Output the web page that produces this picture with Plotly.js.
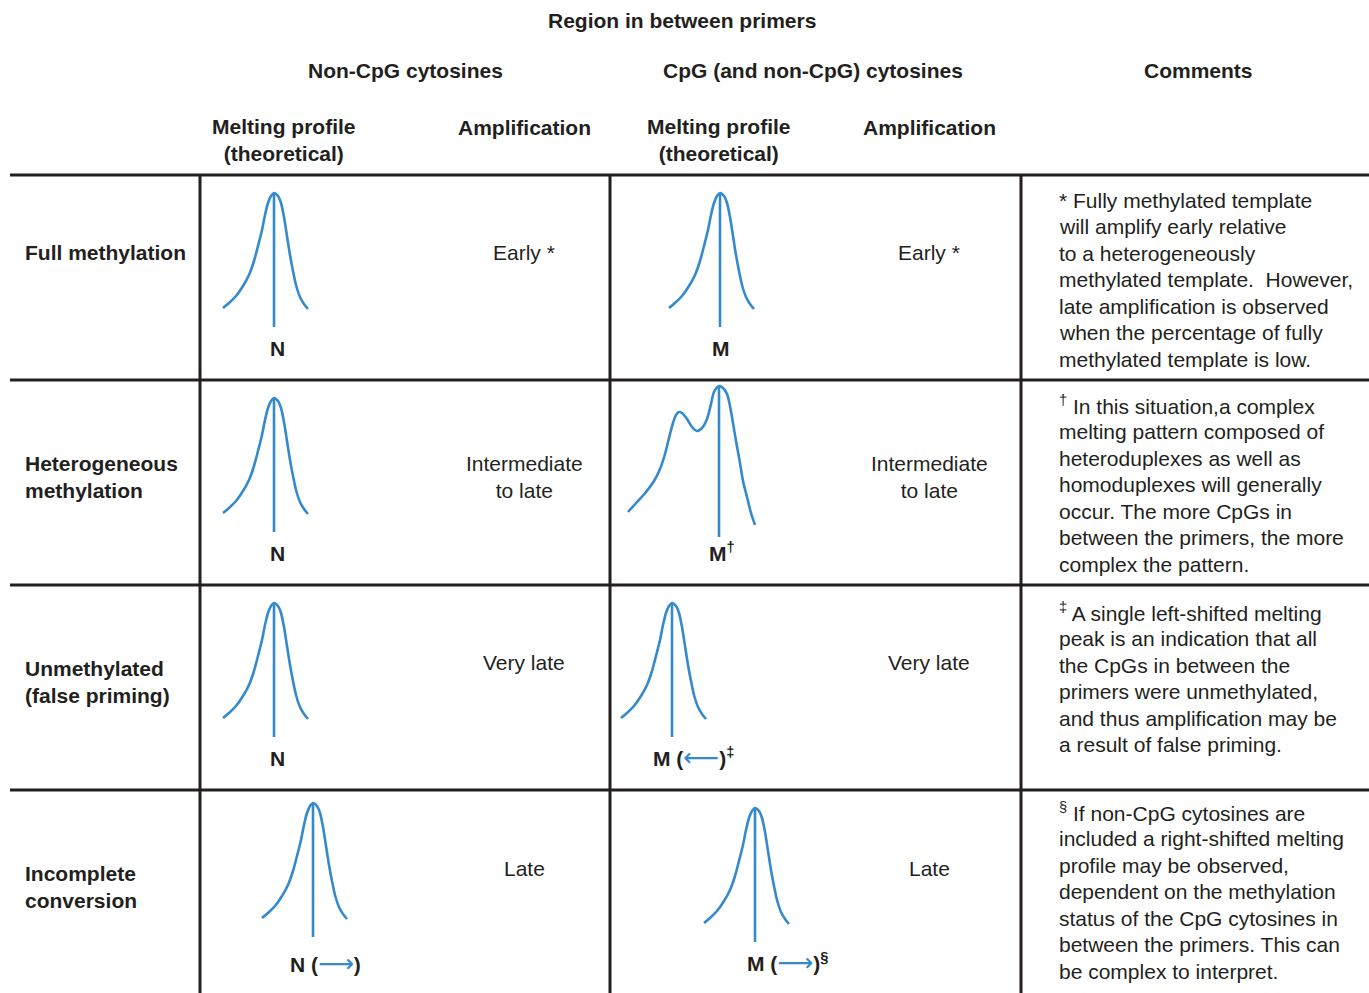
<!DOCTYPE html>
<html>
<head>
<meta charset="utf-8">
<script src="https://cdn.plot.ly/plotly-3.0.1.min.js"></script>
<style>html,body{margin:0;padding:0;background:#fff;}#chart{width:1369px;height:993px;}</style>
</head>
<body>
<div id="chart"></div>
<script>
// ---------- data ----------
const topTitle = "Region in between primers";
const groupHeaders = ["Non-CpG cytosines", "CpG (and non-CpG) cytosines", "Comments"];
const subHeaders = ["Melting profile<br>(theoretical)", "Amplification", "Melting profile<br>(theoretical)", "Amplification"];
const rowLabels = ["Full methylation", "Heterogeneous<br>methylation", "Unmethylated<br>(false priming)", "Incomplete<br>conversion"];
const amplificationNonCpG = ["Early *", "Intermediate<br>to late", "Very late", "Late"];
const amplificationCpG = ["Early *", "Intermediate<br>to late", "Very late", "Late"];
const ARROW_L = "<span style='color:#3589cd;font-weight:normal;font-family:DejaVu Sans;font-size:25px'>⟵</span>";
const ARROW_R = "<span style='color:#3589cd;font-weight:normal;font-family:DejaVu Sans;font-size:25px'>⟶</span>";
const peakLabelsNonCpG = ["N", "N", "N", "N (" + ARROW_R + ")"];
const peakLabelsCpG = ["M", "M<sup>†</sup>", "M (" + ARROW_L + ")<sup>‡</sup>", "M (" + ARROW_R + ")<sup>§</sup>"];
const comments = [
  ["* Fully methylated template", "will amplify early relative", "to a heterogeneously", "methylated template.\u00a0 However,", "late amplification is observed", "when the percentage of fully", "methylated template is low."],
  ["<sup>†</sup> In this situation,a complex", "melting pattern composed of", "heteroduplexes as well as", "homoduplexes will generally", "occur. The more CpGs in", "between the primers, the more", "complex the pattern."],
  ["<sup>‡</sup> A single left-shifted melting", "peak is an indication that all", "the CpGs in between the", "primers were unmethylated,", "and thus amplification may be", "a result of false priming."],
  ["<sup>§</sup> If non-CpG cytosines are", "included a right-shifted melting", "profile may be observed,", "dependent on the methylation", "status of the CpG cytosines in", "between the primers. This can", "be complex to interpret."]
];
// melting peak shapes (offsets from apex)
const singlePeakDX = [-51, -45, -38, -31, -25, -20, -16, -12, -9, -6, -3, 0, 4, 7, 10, 13, 16, 19, 22, 26, 30, 34];
const singlePeakDY = [115, 110, 103, 93, 82, 68, 53, 37, 22, 10, 3, 0, 3, 10, 24, 43, 62, 78, 92, 104, 111, 116];
const doublePeakDX = [-91, -82, -73, -65, -59, -54, -50, -46, -43, -40, -37, -32, -27, -22, -17, -12, -8, -5, 0, 4, 8, 11, 14, 17, 21, 24, 28, 32, 36];
const doublePeakDY = [126, 116, 106, 95, 83, 68, 52, 37, 29, 26, 27, 33, 41, 45, 42, 33, 18, 6, 0, 2, 8, 20, 37, 55, 77, 95, 111, 127, 139];
const stemSingle = 134, stemDouble = 151;

// ---------- layout geometry ----------
const W = 1369, H = 993;
const BLUE = "#3589cd", INK = "#231f20";
const FONT = "Liberation Sans, Arial, Helvetica, sans-serif";
const rowTops = [175, 380, 585, 790];
const rowMid = [252, 476.5, 682, 887];
const ampY = [252, 476.5, 662, 868];
const colX = {label: 23, mp1: 284, amp1: 524, mp2: 719, amp2: 929, com: 1057};
const apexNon = [[274, 193], [274, 398], [274, 603], [313, 803]];
const apexCpG = [[720, 193], [719, 386], [672, 603], [755, 808]];
const labelNon = [[277, 348], [277, 553], [277, 758], [325, 963]];
const labelCpG = [[721, 348], [722, 552], [693, 757], [787, 962]];
const commentTop = [200, 405, 612, 812];
const commentStep = 26.5;

const traces = [];
function addPeak(apex, dx, dy, stem) {
  traces.push({x: dx.map(v => apex[0] + v), y: dy.map(v => apex[1] + v), mode: "lines",
    line: {color: BLUE, width: 2.6, shape: "spline", smoothing: 0.8}, hoverinfo: "skip", showlegend: false});
  traces.push({x: [apex[0], apex[0]], y: [apex[1], apex[1] + stem], mode: "lines",
    line: {color: BLUE, width: 2.6}, hoverinfo: "skip", showlegend: false});
}
for (let i = 0; i < 4; i++) {
  addPeak(apexNon[i], singlePeakDX, singlePeakDY, stemSingle);
  if (i === 1) addPeak(apexCpG[i], doublePeakDX, doublePeakDY, stemDouble);
  else addPeak(apexCpG[i], singlePeakDX, singlePeakDY, stemSingle);
}

const ann = [];
function txt(x, y, text, opts) {
  opts = opts || {};
  ann.push(Object.assign({x: x, y: y, xref: "x", yref: "y", text: text, showarrow: false,
    xanchor: "center", yanchor: "middle", align: "center",
    font: {family: FONT, size: 21, color: INK, weight: opts.bold ? "bold" : "normal"}}, opts.extra || {}));
}
txt(682, 20, topTitle, {bold: true});
txt(405, 70, groupHeaders[0], {bold: true});
txt(813, 70, groupHeaders[1], {bold: true});
txt(1198, 70, groupHeaders[2], {bold: true});
txt(colX.mp1, 139.5, subHeaders[0], {bold: true});
txt(colX.amp1, 127, subHeaders[1], {bold: true});
txt(colX.mp2, 139.5, subHeaders[2], {bold: true});
txt(colX.amp2, 127, subHeaders[3], {bold: true});
for (let i = 0; i < 4; i++) {
  txt(colX.label, rowMid[i], rowLabels[i], {bold: true, extra: {xanchor: "left", align: "left"}});
  txt(colX.amp1, ampY[i], amplificationNonCpG[i]);
  txt(colX.amp2, ampY[i], amplificationCpG[i]);
  txt(labelNon[i][0], labelNon[i][1], peakLabelsNonCpG[i], {bold: true});
  txt(labelCpG[i][0], labelCpG[i][1], peakLabelsCpG[i], {bold: true});
  comments[i].forEach((line, j) => {
    txt(colX.com, commentTop[i] + j * commentStep, line, {extra: {xanchor: "left", align: "left"}});
  });
}

const shapes = [];
rowTops.forEach(y => shapes.push({type: "line", xref: "x", yref: "y", x0: 10, x1: W, y0: y, y1: y, line: {color: INK, width: 3}}));
[200, 610, 1021].forEach(x => shapes.push({type: "line", xref: "x", yref: "y", x0: x, x1: x, y0: 175, y1: H, line: {color: INK, width: 3}}));

const layout = {
  width: W, height: H, margin: {l: 0, r: 0, t: 0, b: 0},
  paper_bgcolor: "#fff", plot_bgcolor: "#fff",
  xaxis: {range: [0, W], visible: false, fixedrange: true},
  yaxis: {range: [H, 0], visible: false, fixedrange: true},
  annotations: ann, shapes: shapes, showlegend: false
};
Plotly.newPlot("chart", traces, layout, {displayModeBar: false, staticPlot: true});
</script>
</body>
</html>
